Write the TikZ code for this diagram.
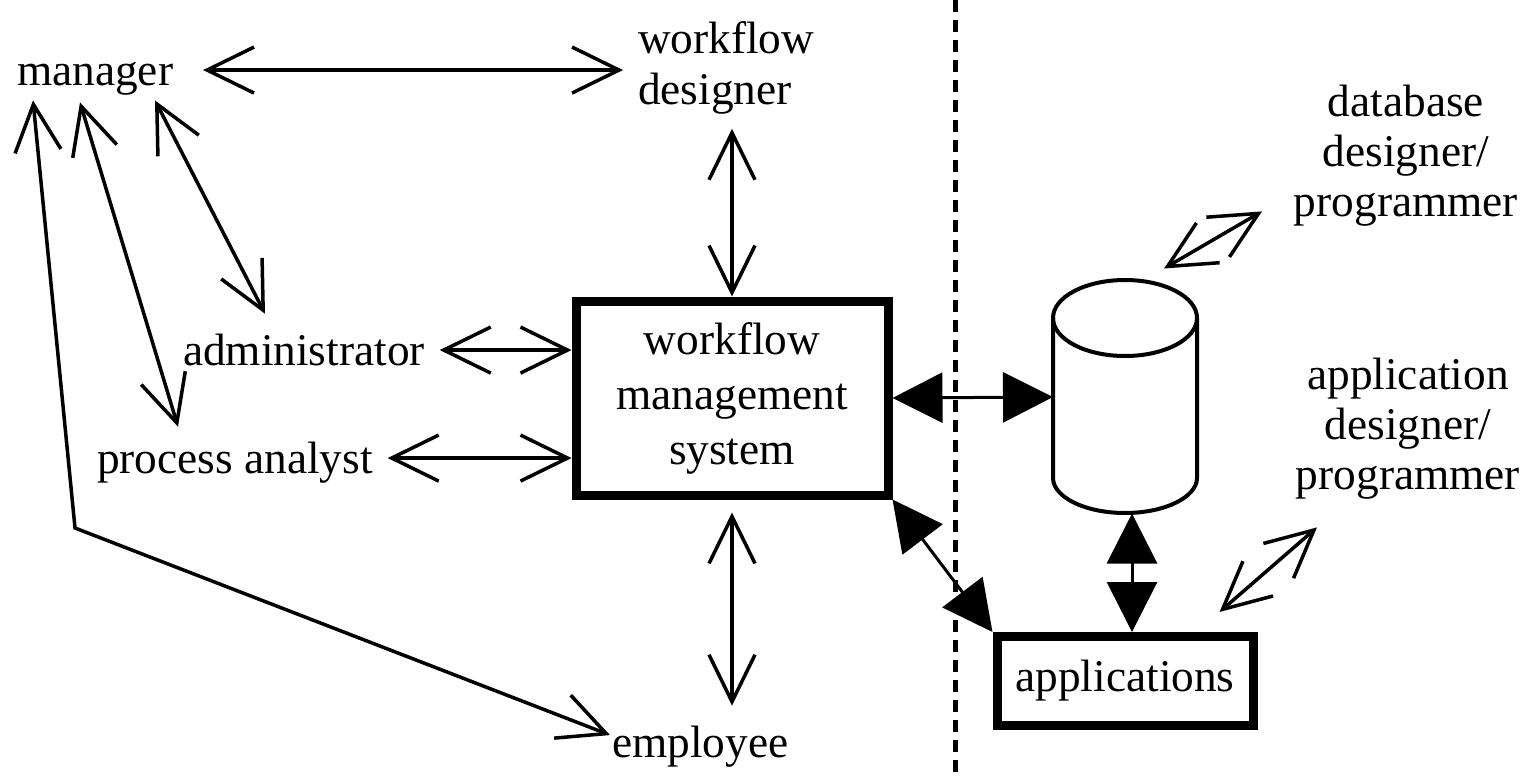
\documentclass[tikz,border=0pt]{standalone}
\usepackage{fontspec}
\setmainfont{Liberation Serif}
\usetikzlibrary{arrows.meta}

\tikzset{
  actor/.style={inner sep=0pt, outer sep=0pt, font=\fontsize{25.8}{28.5}\selectfont,
                text height=23.5pt, text depth=6.5pt},
  role/.style={inner sep=0pt, outer sep=0pt, align=center, font=\fontsize{25.8}{28.5}\selectfont},
  sysbox/.style={draw, line width=1.8mm, align=center, inner sep=0pt,
                 font=\fontsize{25.8}{31.3}\selectfont},
  link/.style={line width=0.7mm, {Straight Barb[length=9.4mm, width=9.2mm]}-{Straight Barb[length=9.4mm, width=9.2mm]}},
  flow/.style={line width=0.6mm, {Triangle[length=10mm, width=10mm]}-{Triangle[length=10mm, width=10mm]}},
  dbline/.style={line width=0.8mm, line join=round},
  divider/.style={line width=1mm, dash pattern=on 2.4mm off 1.6mm}
}

\begin{document}
\begin{tikzpicture}[x=0.2mm, y=-0.2mm]
  \useasboundingbox (0,0) rectangle (1526,776);

  % people round the system
  \node[actor, anchor=base west] (manager) at (17,85) {manager};
  \node[role, align=left, anchor=north west] (wfd) at (638,22) {workflow\\designer};
  \node[actor, anchor=base west] (admin) at (183,365) {administrator};
  \node[actor, anchor=base west] (analyst) at (97,473) {process analyst};
  \node[actor, anchor=base west] (employee) at (612,757) {employee};
  \node[role, anchor=north] (dbdev) at (1406,85) {database\\designer/\\programmer};
  \node[role, anchor=north] (appdev) at (1408,358) {application\\designer/\\programmer};

  % the system, the database and the applications
  \node[sysbox, minimum width=62.4mm, minimum height=38.8mm] (wfms) at (732,398) {workflow\\management\\system};
  \node[sysbox, minimum width=51.2mm, minimum height=17.8mm] (apps) at (1125,681) {applications};
  \node[inner sep=0pt, outer sep=0pt, minimum width=28.8mm, minimum height=46.6mm] (db) at (1125,397) {};
  \draw[dbline] (1053,318) -- (1053,478) .. controls (1053,497) and (1085,513) .. (1125,513)
                .. controls (1165,513) and (1197,497) .. (1197,478) -- (1197,318);
  \draw[dbline] (1125,318) ellipse [x radius=14.4mm, y radius=7.6mm];

  % build time / run time border
  \draw[divider] (955,0) -- (955,776);

  % open arrows
  \draw[link, shorten <=6mm, shorten >=3mm] (manager.east) -- (wfd.west |- manager.east);
  \draw[link, shorten <=3mm] (wfd.south -| wfms.north) -- (wfms.north);
  \draw[link, shorten <=3mm] (admin.east) -- (admin.east -| wfms.west);
  \draw[link, shorten <=3mm] (analyst.east) -- (analyst.east -| wfms.west);
  \draw[link, shorten <=2.6mm, shorten >=2mm] (wfms.south) -- (wfms.south |- employee.north);
  \draw[link] ([shift={(138,4)}]manager.south west) -- ([shift={(82,-10)}]admin.north west);
  \draw[link] ([shift={(63,6)}]manager.south west) -- ([shift={(81,-5)}]analyst.north west);
  \coordinate (turn) at (75,528);
  \draw[link] ([shift={(16,4)}]manager.south west) -- (turn) -- ([shift={(-2,-7)}]employee.west);
  \draw[link] ([shift={(-33,-12)}]db.north east) -- ([shift={(-32,-15)}]dbdev.south west);
  \draw[link] ([shift={(-38,-20)}]apps.north east) -- ([shift={(21,28)}]appdev.south west);

  % filled arrows
  \draw[flow] (wfms.east) -- (db.west);
  \draw[flow] (wfms.south east) -- (apps.north west);
  \draw[flow] ([xshift=1.4mm]db.south) -- ([xshift=1.4mm]apps.north);
\end{tikzpicture}
\end{document}
